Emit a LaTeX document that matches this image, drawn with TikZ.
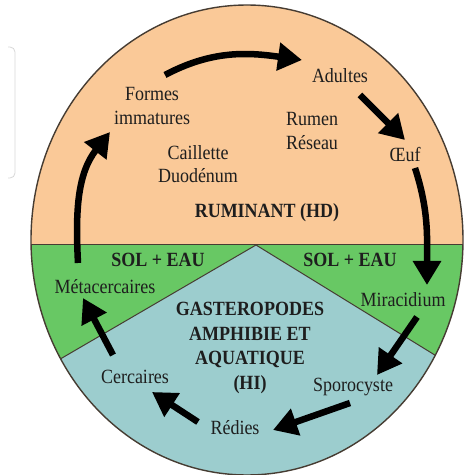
\documentclass[tikz,border=0pt]{standalone}
\usepackage{fontspec}
\setmainfont{Liberation Serif}
\usetikzlibrary{arrows.meta,calc,positioning}

\definecolor{hostpeach}{RGB}{250,201,152}
\definecolor{soilgreen}{RGB}{104,200,100}
\definecolor{snailblue}{RGB}{156,205,206}
\definecolor{rimline}{RGB}{70,60,50}
\definecolor{panelgray}{RGB}{215,215,215}
\definecolor{labelink}{RGB}{30,30,30}

\tikzset{
  stage/.style={font=\fontsize{18}{21}\selectfont, text=labelink, align=center, inner sep=1pt,
    yscale=1.12, transform shape},
  zone/.style={stage, font=\fontsize{18}{22}\selectfont\bfseries},
  cycarrow/.style={line width=6.5pt, -{Triangle[length=24pt,width=27pt]}},
}

\begin{document}
\begin{tikzpicture}[x=1pt,y=1pt]
    \useasboundingbox (0,0) rectangle (464,475);

    % Screen panel edge
    \draw[panelgray, line width=0.8pt, rounded corners=5pt] (8,428) -- (15,428) -- (15,297) -- (8,297);

    % Host and environment zones
    \begin{scope}
        \clip (247,235) ellipse [x radius=216, y radius=235];
        \fill[hostpeach] (0,230) rectangle (464,475);
        \fill[soilgreen] (0,-10) rectangle (464,230);
        \fill[snailblue] (256,230) -- (-35,60.5) -- (-35,-10) -- (540,-10) -- (540,55.3) -- cycle;
        \draw[rimline, line width=1pt] (0,230) -- (464,230);
        \draw[rimline, line width=1pt] (-35,60.5) -- (256,230) -- (540,55.3);
    \end{scope}
    \draw[rimline, line width=1.4pt] (247,235) ellipse [x radius=216, y radius=235];

    % Stages
    \node[stage] (formes) at (152,369) {Formes\\immatures};
    \node[stage] (adultes) at (340,399) {Adultes};
    \node[stage] (oeuf) at (405,320) {Œuf};
    \node[stage] (miracidium) at (403,175) {Miracidium};
    \node[stage] (sporocyste) at (353,88) {Sporocyste};
    \node[stage] (redies) at (235,47) {Rédies};
    \node[stage] (cercaires) at (135,98) {Cercaires};
    \node[stage] (metacercaires) at (105,188) {Métacercaires};

    % Organs
    \node[stage] (rumen) at (312,344) {Rumen\\Réseau};
    \node[stage] (caillette) at (198,311) {Caillette\\Duodénum};

    % Zone labels
    \node[zone] (ruminant) at (267,262) {RUMINANT (HD)};
    \node[zone] (solgauche) at (158,215) {SOL + EAU};
    \node[zone] (soldroite) at (350,215) {SOL + EAU};
    \node[zone] (gastero) at (250,127) {GASTEROPODES\\AMPHIBIE ET\\AQUATIQUE\\(HI)};

    % Life cycle
    \draw[cycarrow] ($(formes.center)+(13,31)$) to[out=28,in=172] ($(adultes.center)+(-38,16)$);
    \draw[cycarrow] ($(adultes.center)+(20,-19)$) -- ($(oeuf.center)+(0,15)$);
    \draw[cycarrow] ($(oeuf.center)+(10,-13)$) to[out=-72,in=90] ($(miracidium.center)+(24,15)$);
    \draw[cycarrow] ($(miracidium.center)+(14,-17)$) -- ($(sporocyste.center)+(24,12)$);
    \draw[cycarrow] ($(sporocyste.center)+(-3,-16)$) -- ($(redies.center)+(38,-2)$);
    \draw[cycarrow] ($(redies.center)+(-37,6)$) -- ($(cercaires.center)+(17,-15)$);
    \draw[cycarrow] ($(cercaires.center)+(-22,22)$) -- ($(metacercaires.center)+(-22,-11)$);
    \draw[cycarrow] ($(metacercaires.center)+(-27,24)$) to[out=93,in=232] ($(formes.center)+(-42,-26)$);
\end{tikzpicture}
\end{document}
